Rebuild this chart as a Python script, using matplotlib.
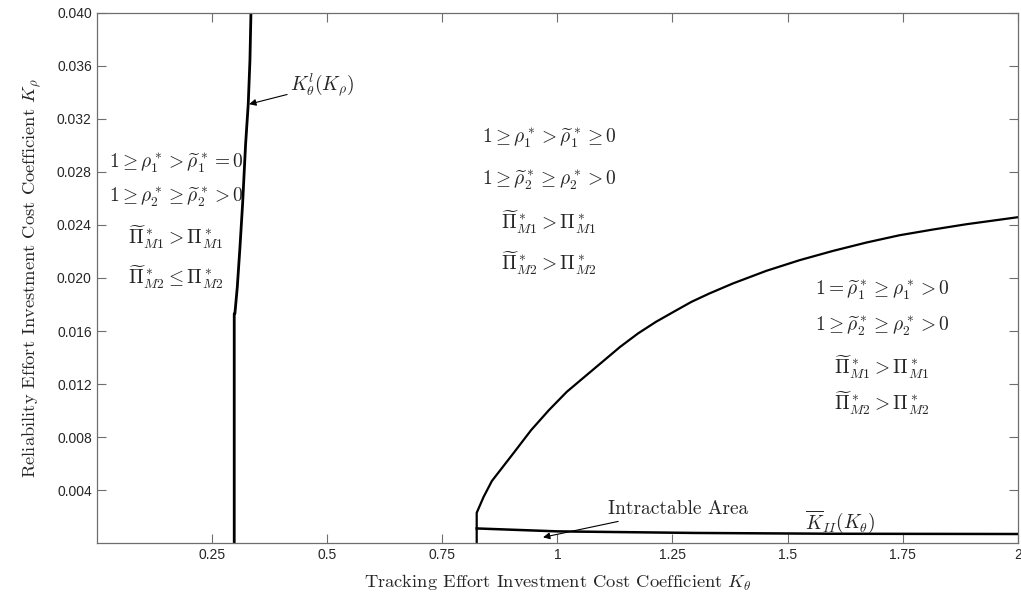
import matplotlib

matplotlib.use("Agg")
import matplotlib.pyplot as plt

plt.rcParams["mathtext.fontset"] = "cm"

# left boundary K_theta^l(K_rho)
left_x = [0.2986, 0.2986, 0.300, 0.3052, 0.311, 0.3168, 0.3204, 0.3233, 0.329, 0.3327, 0.3349]
left_y = [0.0, 0.0173, 0.0173, 0.0193, 0.0223, 0.0256, 0.0281, 0.0301, 0.0331, 0.0364, 0.040]

# upper boundary curve
upper_x = [0.825, 0.825, 0.84, 0.858, 0.9045, 0.9431, 0.9818, 1.0206, 1.0592, 1.0979,
           1.1365, 1.1753, 1.2140, 1.2526, 1.2912, 1.3301, 1.3815, 1.454, 1.526,
           1.5985, 1.671, 1.743, 1.8155, 1.888, 2.0]
upper_y = [0.0, 0.0023, 0.0035, 0.0047, 0.00678, 0.00853, 0.01004, 0.01142, 0.01255, 0.01368,
           0.01481, 0.01582, 0.01669, 0.01745, 0.01820, 0.01883, 0.01959, 0.02054, 0.02134,
           0.02204, 0.02267, 0.02322, 0.02365, 0.02405, 0.02458]

# lower boundary K_II(K_theta)
lower_x = [0.825, 1.0, 1.3, 1.6, 2.0]
lower_y = [0.00112, 0.00090, 0.00078, 0.00072, 0.00070]

x_ticks = [0.25, 0.5, 0.75, 1, 1.25, 1.5, 1.75, 2]
x_tick_labels = ["0.25", "0.5", "0.75", "1", "1.25", "1.5", "1.75", "2"]
y_ticks = [0.004, 0.008, 0.012, 0.016, 0.020, 0.024, 0.028, 0.032, 0.036, 0.040]

block_left = [
    r"$1 \geq \rho^*_1 > \widetilde{\rho}^*_1 = 0$",
    r"$1 \geq \rho^*_2 \geq \widetilde{\rho}^*_2 > 0$",
    r"$\widetilde{\Pi}^*_{M1} > \Pi^*_{M1}$",
    r"$\widetilde{\Pi}^*_{M2} \leq \Pi^*_{M2}$",
]
block_mid = [
    r"$1 \geq \rho^*_1 > \widetilde{\rho}^*_1 \geq 0$",
    r"$1 \geq \widetilde{\rho}^*_2 \geq \rho^*_2 > 0$",
    r"$\widetilde{\Pi}^*_{M1} > \Pi^*_{M1}$",
    r"$\widetilde{\Pi}^*_{M2} > \Pi^*_{M2}$",
]
block_right = [
    r"$1 = \widetilde{\rho}^*_1 \geq \rho^*_1 > 0$",
    r"$1 \geq \widetilde{\rho}^*_2 \geq \rho^*_2 > 0$",
    r"$\widetilde{\Pi}^*_{M1} > \Pi^*_{M1}$",
    r"$\widetilde{\Pi}^*_{M2} > \Pi^*_{M2}$",
]

fig = plt.figure(figsize=(10.21, 6.01), dpi=100)
ax = fig.add_axes([0.0947, 0.096, 0.9023, 0.883])

ax.plot(left_x, left_y, color="black", lw=2.0)
ax.plot(upper_x, upper_y, color="black", lw=1.6)
ax.plot(lower_x, lower_y, color="black", lw=1.8)

ax.set_xlim(0, 2)
ax.set_ylim(0, 0.04)
ax.set_xticks(x_ticks)
ax.set_xticklabels(x_tick_labels)
ax.set_yticks(y_ticks)
ax.set_yticklabels([f"{v:.3f}" for v in y_ticks])

for s in ax.spines.values():
    s.set_color("#6e6e6e")
    s.set_linewidth(0.9)
ax.tick_params(direction="in", length=6.5, width=0.8, color="#6e6e6e",
               top=True, right=True, labelsize=10, labelcolor="#262626")
for lab in ax.get_xticklabels() + ax.get_yticklabels():
    lab.set_family("Liberation Sans")

ax.set_xlabel(r"Tracking Effort Investment Cost Coefficient $K_\theta$",
              family="cmr10", fontsize=13.3, color="#262626", labelpad=8)
ax.set_ylabel(r"Reliability Effort Investment Cost Coefficient $K_\rho$",
              family="cmr10", fontsize=13.3, color="#262626", labelpad=10)


def put_block(lines, xc, ys):
    for t, yy in zip(lines, ys):
        ax.text(xc, yy, t, ha="center", va="center", fontsize=14, color="#262626")


put_block(block_left, 0.172, [0.02863, 0.02611, 0.0231, 0.02008])
put_block(block_mid, 0.982, [0.03051, 0.02737, 0.02423, 0.02109])
put_block(block_right, 1.705, [0.01908, 0.01632, 0.0133, 0.01055])

ax.annotate(r"$K_\theta^l(K_\rho)$", xy=(0.331, 0.0331), xytext=(0.4195, 0.0345),
            fontsize=14, color="#262626", ha="left", va="center",
            arrowprops=dict(arrowstyle="-|>", color="black", lw=0.8,
                            mutation_scale=10, shrinkA=0, shrinkB=0))
ax.annotate("Intractable Area", xy=(0.969, 0.00045), xytext=(1.109, 0.0026),
            family="cmr10", fontsize=14, color="#262626", ha="left", va="center",
            arrowprops=dict(arrowstyle="-|>", color="black", lw=0.8,
                            mutation_scale=10, shrinkA=3, shrinkB=0))
ax.text(1.613, 0.00163, r"$\overline{K}_{II}(K_\theta)$", fontsize=14,
        color="#262626", ha="center", va="center")

fig.savefig("out.png", dpi=100)
